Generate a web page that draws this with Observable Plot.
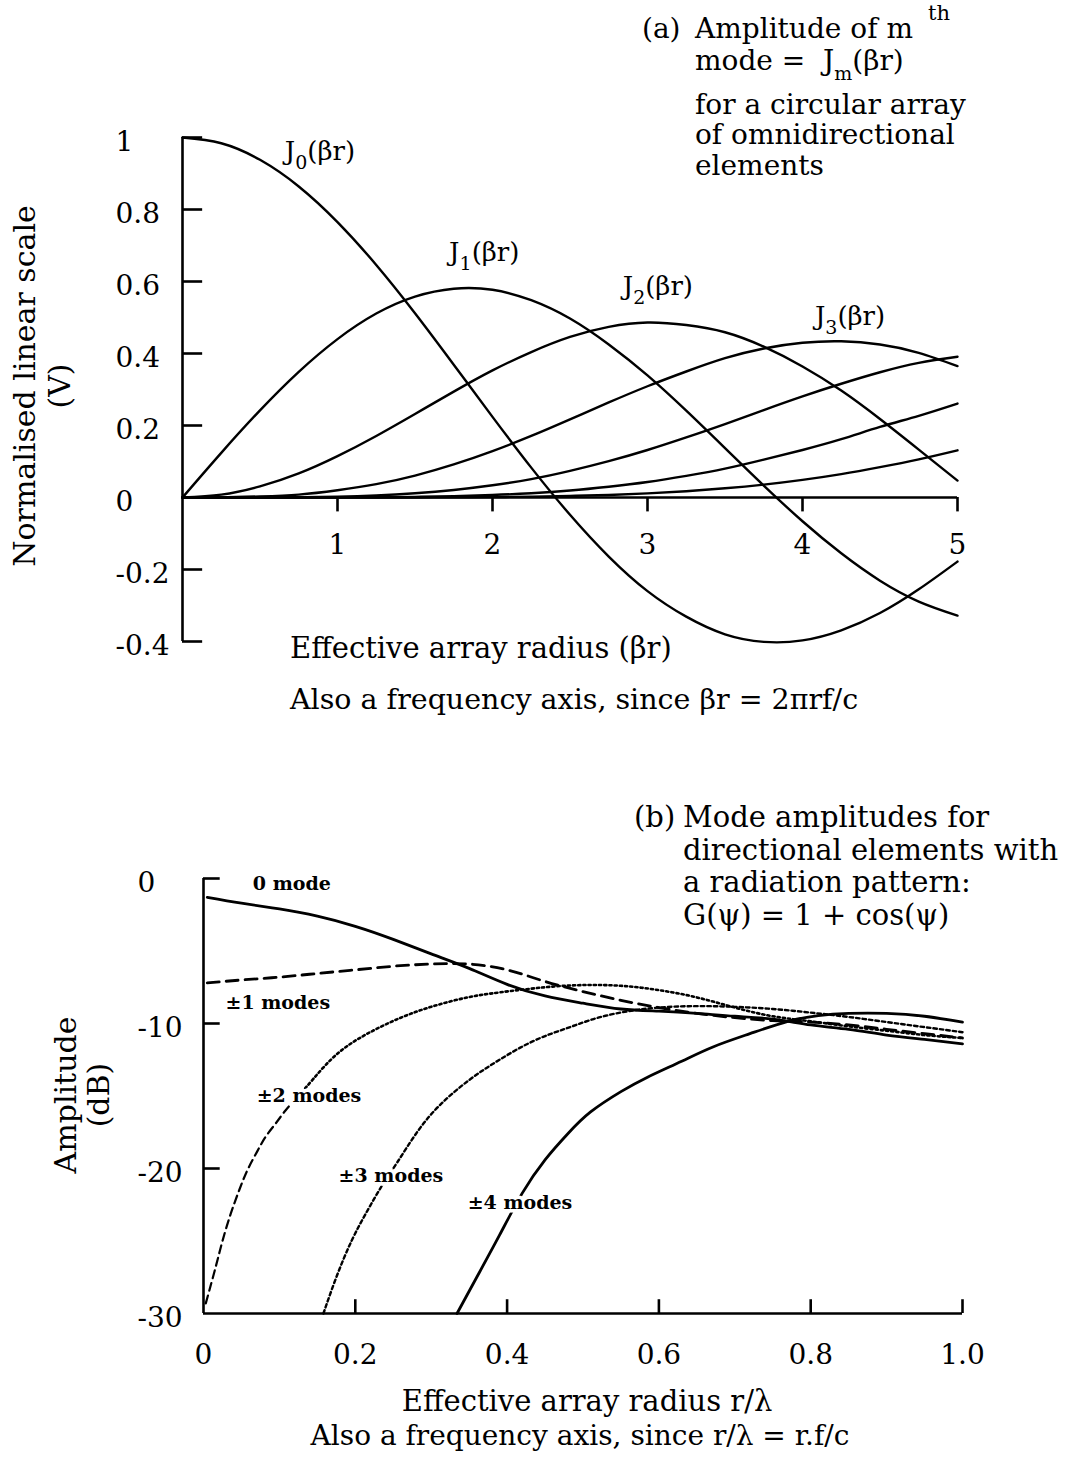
<!DOCTYPE html>
<html><head><meta charset="utf-8">
<script src="https://cdn.jsdelivr.net/npm/d3@7"></script>
<script src="https://cdn.jsdelivr.net/npm/@observablehq/plot@0.6"></script>
<style>
html,body{margin:0;padding:0;background:#fff;}
#page{position:relative;width:1065px;height:1465px;overflow:hidden;font-family:"DejaVu Serif",serif;color:#000;background:#fff;}
.t{position:absolute;white-space:nowrap;line-height:1;font-size:28px;}
.rot{position:absolute;white-space:nowrap;line-height:1;font-size:30px;transform:translate(-50%,-50%) rotate(-90deg);}
#pa,#pb{position:absolute;left:0;}
</style></head><body>
<div id="page">
  <div id="pa" style="top:0px"></div>
  <div id="pb" style="top:760px"></div>

  <div class="t" style="left:642px;top:15px">(a)</div>
  <div class="t" style="left:695px;top:15px">Amplitude of m</div>
  <div class="t" style="left:928px;top:3px;font-size:21px">th</div>
  <div class="t" style="left:695px;top:47px">mode = &nbsp;J<span style="position:relative;top:10px;font-size:19px;line-height:1">m</span>(βr)</div>
  <div class="t" style="left:695px;top:91px">for a circular array</div>
  <div class="t" style="left:695px;top:121px">of omnidirectional</div>
  <div class="t" style="left:695px;top:152px">elements</div>

  <div class="rot" style="left:25px;top:386px">Normalised linear scale</div>
  <div class="rot" style="left:60px;top:386px">(V)</div>
  <div class="t" style="left:290px;top:634px;font-size:29px">Effective array radius (βr)</div>
  <div class="t" style="left:290px;top:686px;font-size:28.5px">Also a frequency axis, since βr = 2πrf/c</div>

  <div class="t" style="left:634px;top:803px;font-size:29px">(b)</div>
  <div class="t" style="left:683px;top:803px;font-size:29px">Mode amplitudes for</div>
  <div class="t" style="left:683px;top:836px;font-size:29px">directional elements with</div>
  <div class="t" style="left:683px;top:868px;font-size:29px">a radiation pattern:</div>
  <div class="t" style="left:683px;top:901px;font-size:29px">G(ψ) = 1 + cos(ψ)</div>

  <div class="rot" style="left:66px;top:1095px">Amplitude</div>
  <div class="rot" style="left:99px;top:1095px">(dB)</div>
  <div class="t" style="left:587px;top:1387px;font-size:29px;transform:translateX(-50%)">Effective array radius r/λ</div>
  <div class="t" style="left:580px;top:1422px;transform:translateX(-50%)">Also a frequency axis, since r/λ = r.f/c</div>
</div>
<script>
// ---------- Panel (a): Bessel mode amplitudes ----------
const radiusA = [0,0.25,0.5,0.75,1,1.25,1.5,1.75,2,2.25,2.5,2.75,3,3.25,3.5,3.75,4,4.25,4.5,4.75,5];
const besselJ0 = [1,0.984,0.938,0.864,0.765,0.646,0.512,0.369,0.224,0.083,-0.048,-0.164,-0.260,-0.331,-0.380,-0.401,-0.397,-0.369,-0.321,-0.255,-0.178];
const besselJ1 = [0,0.124,0.242,0.349,0.440,0.511,0.558,0.580,0.577,0.548,0.497,0.425,0.339,0.241,0.137,0.033,-0.066,-0.155,-0.231,-0.289,-0.328];
const besselJ2 = [0,0.008,0.031,0.067,0.115,0.171,0.232,0.294,0.353,0.404,0.446,0.474,0.486,0.479,0.459,0.419,0.364,0.297,0.218,0.133,0.047];
const besselJ3 = [0,0.0003,0.003,0.008,0.020,0.037,0.061,0.092,0.129,0.171,0.217,0.264,0.309,0.350,0.387,0.414,0.430,0.434,0.425,0.402,0.365];
const besselJ4 = [0,0,0.0002,0.0008,0.0025,0.006,0.012,0.021,0.034,0.051,0.074,0.101,0.132,0.167,0.204,0.243,0.281,0.316,0.348,0.374,0.391];
const besselJ5 = [0,0,0,0,0.0002,0.0007,0.0018,0.0037,0.007,0.012,0.0195,0.030,0.043,0.060,0.080,0.105,0.132,0.162,0.196,0.227,0.261];
const besselJ6 = [0,0,0,0,0,0.0001,0.0002,0.0005,0.0012,0.0024,0.0044,0.0071,0.0114,0.0174,0.0255,0.0359,0.0491,0.0651,0.0844,0.106,0.131];
const besselSeries = [besselJ0,besselJ1,besselJ2,besselJ3,besselJ4,besselJ5,besselJ6];

const yTicksA = [1,0.8,0.6,0.4,0.2,-0.2,-0.4];
const yLabelValuesA = [1,0.8,0.6,0.4,0.2,0,-0.2,-0.4];
const yLabelsA = ["1","0.8","0.6","0.4","0.2","0","-0.2","-0.4"];
const xTicksA = [1,2,3,4,5];
const xLabelsA = ["1","2","3","4","5"];
const curveLabelsA = [
  {text:"J_0(βr)", x:0.66, y:0.962},
  {text:"J_1(βr)", x:1.72, y:0.68},
  {text:"J_2(βr)", x:2.84, y:0.586},
  {text:"J_3(βr)", x:4.08, y:0.503}
];

// ---------- Panel (b): directional element modes (dB) ----------
const mode0R  = [0.005,0.05,0.1,0.15,0.2,0.25,0.3,0.35,0.4,0.45,0.5,0.55,0.6,0.65,0.7,0.75,0.8,0.85,0.9,0.95,1.0];
const mode0dB = [-1.3,-1.7,-2.1,-2.6,-3.3,-4.2,-5.2,-6.2,-7.3,-8.1,-8.6,-9.0,-9.15,-9.3,-9.5,-9.7,-10.1,-10.4,-10.8,-11.1,-11.4];
const mode1R  = [0.005,0.05,0.1,0.15,0.2,0.25,0.3,0.35,0.4,0.45,0.5,0.55,0.6,0.65,0.7,0.75,0.8,0.85,0.9,0.95,1.0];
const mode1dB = [-7.2,-7.0,-6.8,-6.55,-6.3,-6.05,-5.9,-5.9,-6.3,-7.1,-7.8,-8.4,-8.9,-9.3,-9.6,-9.8,-9.9,-10.1,-10.4,-10.7,-11.0];
const mode2LowR  = [0.003,0.016,0.025,0.036,0.047,0.058,0.071,0.082,0.095,0.108,0.125];
const mode2LowdB = [-29.3,-26.8,-25.0,-23.1,-21.5,-20.1,-18.8,-17.8,-16.9,-16.0,-15.0];
const mode2HighR  = [0.125,0.145,0.176,0.216,0.26,0.303,0.348,0.391,0.45,0.5,0.55,0.6,0.65,0.7,0.75,0.8,0.85,0.9,0.95,1.0];
const mode2HighdB = [-15.0,-13.8,-12.1,-10.7,-9.6,-8.8,-8.2,-7.85,-7.5,-7.35,-7.4,-7.7,-8.2,-8.9,-9.5,-9.85,-10.2,-10.5,-10.8,-11.0];
const mode3R  = [0.158,0.175,0.195,0.215,0.235,0.255,0.28,0.31,0.35,0.39,0.435,0.48,0.52,0.56,0.6,0.65,0.7,0.75,0.8,0.85,0.9,0.95,1.0];
const mode3dB = [-30,-27.5,-25.0,-23.0,-21.2,-19.6,-17.6,-15.7,-13.9,-12.5,-11.2,-10.3,-9.6,-9.15,-8.9,-8.8,-8.85,-9.0,-9.25,-9.55,-9.9,-10.25,-10.6];
const mode4R  = [0.334,0.36,0.39,0.42,0.45,0.48,0.51,0.55,0.585,0.63,0.672,0.72,0.77,0.81,0.85,0.9,0.95,1.0];
const mode4dB = [-30,-27.5,-24.6,-21.7,-19.4,-17.6,-16.1,-14.7,-13.7,-12.6,-11.6,-10.7,-9.85,-9.45,-9.3,-9.3,-9.5,-9.9];

const yTicksB = [0,-10,-20];
const yLabelValuesB = [0,-10,-20,-30];
const yLabelsB = ["0","-10","-20","-30"];
const xTicksB = [0.2,0.4,0.6,0.8,1.0];
const xLabelValuesB = [0,0.2,0.4,0.6,0.8,1.0];
const xLabelsB = ["0","0.2","0.4","0.6","0.8","1.0"];
const modeLabels = [
  {text:"0 mode",   x:0.065, y:-0.35},
  {text:"±1 modes", x:0.029, y:-8.55},
  {text:"±2 modes", x:0.070, y:-14.97},
  {text:"±3 modes", x:0.178, y:-20.5},
  {text:"±4 modes", x:0.348, y:-22.4}
];

const rowsA = [];
besselSeries.forEach((arr, k) => arr.forEach((v, i) => rowsA.push({order: k, x: radiusA[i], v})));
const pts = (R, D) => R.map((r, i) => ({r, db: D[i]}));

const baseStyle = {fontFamily: "DejaVu Serif", fontSize: "28px", color: "#000", background: "transparent", overflow: "visible"};

const plotA = Plot.plot({
  width: 1065, height: 760,
  marginLeft: 182, marginRight: 108, marginTop: 137, marginBottom: 119,
  x: {domain: [0, 5], axis: null},
  y: {domain: [-0.4, 1], axis: null},
  style: baseStyle,
  marks: [
    Plot.ruleX([0], {y1: -0.4, y2: 1, strokeWidth: 2.6}),
    Plot.ruleY([0], {x1: 0, x2: 5, strokeWidth: 2.6}),
    Plot.ruleY(yTicksA, {x1: 0, x2: 0.13, strokeWidth: 2.6}),
    Plot.ruleX(xTicksA, {y1: 0, y2: -0.04, strokeWidth: 2.6}),
    Plot.line(rowsA, {x: "x", y: "v", z: "order", curve: "natural", stroke: "#000", strokeWidth: 2.4}),
    Plot.text(yLabelValuesA, {x: 0, y: d => d, text: (d, i) => yLabelsA[i], dx: -67, dy: 5, textAnchor: "start", fontSize: 28}),
    Plot.text(xTicksA, {x: d => d, y: 0, text: (d, i) => xLabelsA[i], dy: 48, fontSize: 28}),
    Plot.text(curveLabelsA, {x: "x", y: "y", text: "text", textAnchor: "start", fontSize: 26})
  ]
});

const plotB = Plot.plot({
  width: 1065, height: 705,
  marginLeft: 203, marginRight: 103, marginTop: 118, marginBottom: 152,
  x: {domain: [0, 1], axis: null},
  y: {domain: [-30, 0], axis: null},
  style: baseStyle,
  marks: [
    Plot.ruleX([0], {y1: -30, y2: 0, strokeWidth: 2.6}),
    Plot.ruleY([-30], {x1: 0, x2: 1, strokeWidth: 2.6}),
    Plot.ruleY(yTicksB, {x1: 0, x2: 0.022, strokeWidth: 2.6}),
    Plot.ruleX(xTicksB, {y1: -30, y2: -29.05, strokeWidth: 2.6}),
    Plot.line(pts(mode0R, mode0dB), {x: "r", y: "db", curve: "natural", stroke: "#000", strokeWidth: 2.8}),
    Plot.line(pts(mode1R, mode1dB), {x: "r", y: "db", curve: "natural", stroke: "#000", strokeWidth: 2.8, strokeDasharray: "12,7"}),
    Plot.line(pts(mode2LowR, mode2LowdB), {x: "r", y: "db", curve: "natural", stroke: "#000", strokeWidth: 2.2, strokeDasharray: "8,5"}),
    Plot.line(pts(mode2HighR, mode2HighdB), {x: "r", y: "db", curve: "natural", stroke: "#000", strokeWidth: 2.6, strokeDasharray: "2.2,3"}),
    Plot.line(pts(mode3R, mode3dB), {x: "r", y: "db", curve: "natural", stroke: "#000", strokeWidth: 2.4, strokeDasharray: "3.5,3"}),
    Plot.line(pts(mode4R, mode4dB), {x: "r", y: "db", curve: "natural", stroke: "#000", strokeWidth: 2.8}),
    Plot.text(modeLabels, {x: "x", y: "y", text: "text", textAnchor: "start", fontSize: 19, fontWeight: "bold", fill: "#000", stroke: "#fff", strokeWidth: 7, paintOrder: "stroke"}),
    Plot.text(yLabelValuesB, {x: 0, y: d => d, text: (d, i) => yLabelsB[i], dx: -66, dy: 5, textAnchor: "start", fontSize: 28}),
    Plot.text(xLabelValuesB, {x: d => d, y: -30, text: (d, i) => xLabelsB[i], dy: 42, fontSize: 28})
  ]
});

// subscripts for J_m labels
const NS = "http://www.w3.org/2000/svg";
plotA.querySelectorAll("text").forEach(t => {
  const m = t.textContent.match(/^J_(\d)(.*)$/);
  if (!m) return;
  t.textContent = "J";
  const sub = document.createElementNS(NS, "tspan");
  sub.setAttribute("dy", "9"); sub.setAttribute("font-size", "19"); sub.textContent = m[1];
  const rest = document.createElementNS(NS, "tspan");
  rest.setAttribute("dy", "-9"); rest.textContent = m[2];
  t.append(sub, rest);
});

document.getElementById("pa").append(plotA);
document.getElementById("pb").append(plotB);
</script>
</body></html>
